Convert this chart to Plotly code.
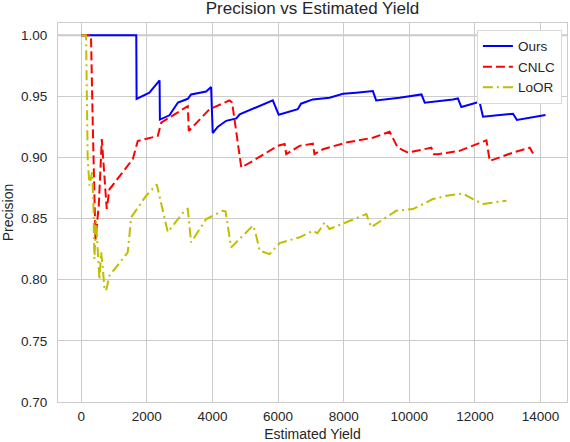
import plotly.graph_objects as go

# ── data ──────────────────────────────────────────────────────────────────────
ours_x = [0, 1680, 1690, 2080, 2390, 2400, 2690, 2950, 3250, 3350, 3810, 3960,
          4010, 4160, 4420, 4730, 4830, 5440, 5840, 6020, 6300, 6600, 6700,
          7060, 7570, 7980, 8380, 8890, 8990, 9700, 10370, 10470, 11330, 11480,
          11585, 12140, 12245, 13160, 13280, 13770, 14150]
ours_y = [1.0, 1.0, 0.948, 0.953, 0.963, 0.931, 0.9345, 0.945, 0.948, 0.9516,
          0.954, 0.9576, 0.920, 0.925, 0.930, 0.932, 0.9353, 0.942, 0.9467,
          0.935, 0.937, 0.9395, 0.944, 0.9475, 0.9489, 0.9521, 0.953, 0.9543,
          0.9467, 0.9489, 0.9516, 0.9448, 0.9475, 0.9483, 0.9413, 0.9456,
          0.9334, 0.9358, 0.9307, 0.9331, 0.9347]

cnlc_x = [0, 300, 355, 436, 537, 630, 780, 863, 1573, 1726, 2335, 2440, 3250,
          3280, 3910, 4520, 4600, 4880, 5230, 5990, 6200, 6250, 6655, 7060,
          7110, 7370, 8080, 8890, 9400, 9650, 9960, 10670, 10750, 10870, 11530,
          12350, 12450, 13160, 13670, 13770]
cnlc_y = [1.0, 1.0, 0.926, 0.833, 0.8605, 0.915, 0.858, 0.874, 0.8986, 0.9135,
          0.9176, 0.9285, 0.942, 0.9217, 0.9394, 0.9467, 0.945, 0.8918, 0.8972,
          0.9095, 0.911, 0.9027, 0.9095, 0.9113, 0.9027, 0.9068, 0.9122,
          0.9162, 0.921, 0.908, 0.904, 0.908, 0.9027, 0.9027, 0.9054, 0.914,
          0.8972, 0.904, 0.908, 0.9032]

loor_x = [0, 150, 200, 253, 335, 375, 405, 455, 558, 610, 660, 710, 760, 863,
          1420, 1524, 1980, 2305, 2640, 3150, 3250, 3350, 3810, 4320, 4400,
          4570, 4880, 5230, 5300, 5440, 5740, 6050, 6655, 7060, 7200, 7420,
          7570, 8080, 8690, 8840, 9600, 10110, 10720, 11130, 11630, 11940,
          12245, 12960]
loor_y = [1.0, 1.0, 0.899, 0.877, 0.888, 0.8605, 0.817, 0.848, 0.80, 0.8225,
          0.81, 0.7926, 0.791, 0.8034, 0.8224, 0.851, 0.8687, 0.878, 0.839,
          0.8564, 0.858, 0.8306, 0.8497, 0.8564, 0.856, 0.8265, 0.8347, 0.8442,
          0.84, 0.8238, 0.821, 0.83, 0.8347, 0.840, 0.838, 0.8469, 0.8415,
          0.847, 0.8537, 0.843, 0.8564, 0.8578, 0.866, 0.8687, 0.8705, 0.866,
          0.862, 0.8646]

x_ticks = [0, 2000, 4000, 6000, 8000, 10000, 12000, 14000]
y_ticks = [0.70, 0.75, 0.80, 0.85, 0.90, 0.95, 1.00]

GRID = "#cccccc"
TEXT = "#262626"

fig = go.Figure()

# the 1.00 reference line sits a bit heavier than the grid
fig.add_hline(y=1.0, line_color="#c8c8c8", line_width=2, layer="below")

fig.add_trace(go.Scatter(x=ours_x, y=ours_y, mode="lines", name="Ours",
                         line=dict(color="#0000ff", width=2)))
fig.add_trace(go.Scatter(x=cnlc_x, y=cnlc_y, mode="lines", name="CNLC",
                         line=dict(color="#ff0000", width=2, dash="9px,4px")))
fig.add_trace(go.Scatter(x=loor_x, y=loor_y, mode="lines", name="LoOR",
                         line=dict(color="#bfbf00", width=2,
                                   dash="10px,4px,2px,4px")))

fig.update_layout(
    width=570, height=442,
    plot_bgcolor="white", paper_bgcolor="white",
    font=dict(family="Liberation Sans, Arial, sans-serif", size=13.5, color=TEXT),
    title=dict(text="Precision vs Estimated Yield", x=0.5, xref="paper",
               xanchor="center", y=0.982, yanchor="middle",
               font=dict(size=17, color=TEXT)),
    margin=dict(l=58, r=3, t=23, b=40, autoexpand=False),
    showlegend=True,
    legend=dict(x=0.99, y=0.982, xanchor="right", yanchor="top",
                bgcolor="white", bordercolor="#d9d9d9", borderwidth=1,
                font=dict(size=13.5, color=TEXT), tracegroupgap=0,
                itemwidth=30),
)
fig.update_xaxes(range=[-705, 14805], tickvals=x_ticks,
                 ticktext=[str(v) for v in x_ticks],
                 showgrid=True, gridcolor=GRID, gridwidth=1,
                 zeroline=False, showline=True, linecolor=GRID, mirror=True,
                 ticks="", ticklen=0, automargin=False, ticklabelstandoff=2,
                 title=dict(text="Estimated Yield", standoff=13,
                            font=dict(size=14)))
fig.update_yaxes(range=[0.70, 1.01], tickvals=y_ticks,
                 ticktext=[f"{v:.2f}" for v in y_ticks],
                 showgrid=True, gridcolor=GRID, gridwidth=1,
                 zeroline=False, showline=True, linecolor=GRID, mirror=True,
                 ticks="", ticklen=0, automargin=False, ticklabelstandoff=7,
                 title=dict(text="Precision", standoff=6,
                            font=dict(size=14)))

# page body has a default 8px margin; drop it so the figure sits at 0,0
fig.write_html("out.html", config={"displayModeBar": False},
               post_script="document.body.style.margin='0';"
                           "document.body.style.overflow='hidden';")
